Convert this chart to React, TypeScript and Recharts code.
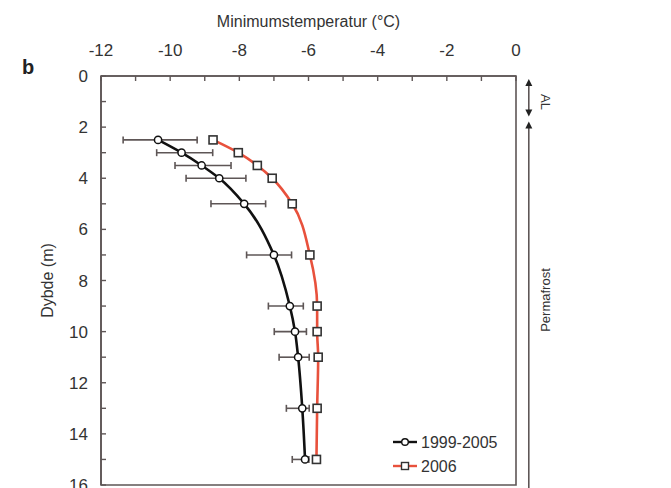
import React from "react";
import {
  LineChart,
  Line,
  XAxis,
  YAxis,
  ErrorBar,
  ReferenceArea,
  ReferenceLine,
} from "recharts";

// depth (m) of each logger
const depths = [2.5, 3, 3.5, 4, 5, 7, 9, 10, 11, 13, 15];
// mean minimum temperature 1999-2005 with min/max range
const temp9905 = [-10.35, -9.67, -9.09, -8.58, -7.86, -7.0, -6.54, -6.39, -6.3, -6.18, -6.1];
const low9905 = [-11.36, -10.39, -9.86, -9.54, -8.82, -7.79, -7.16, -6.99, -6.85, -6.64, -6.47];
const high9905 = [-9.22, -8.77, -8.24, -7.81, -7.24, -6.49, -6.15, -6.06, -5.98, -5.98, -5.99];
// minimum temperature 2006
const temp2006 = [-8.76, -8.03, -7.48, -7.05, -6.47, -5.96, -5.75, -5.75, -5.72, -5.75, -5.77];

const xTicks = [-12, -11, -10, -9, -8, -7, -6, -5, -4, -3, -2, -1, 0];
const yTicks = [0, 1, 2, 3, 4, 5, 6, 7, 8, 9, 10, 11, 12, 13, 14, 15, 16];

const data = depths.map((d, i) => ({
  depth: d,
  a: temp9905[i],
  aErr: [temp9905[i] - low9905[i], high9905[i] - temp9905[i]],
  b: temp2006[i],
}));

const AXIS = "#5e5656";
const RED = "#e8513c";
const FONT = "'Liberation Sans', Arial, sans-serif";
const X_MARGIN = 20;
const Y_MARGIN = 13;

// ticks point inwards, labels only on even values
const XTick = (props: any) => {
  const v = props.payload.value;
  const axisY = props.y + X_MARGIN;
  return (
    <g>
      <line x1={props.x} y1={axisY} x2={props.x} y2={axisY + 5} stroke={AXIS} strokeWidth={1.4} />
      {v % 2 === 0 && (
        <text x={props.x} y={props.y} textAnchor="middle" fontSize={17} fill="#333" fontFamily={FONT}>
          {v}
        </text>
      )}
    </g>
  );
};

const YTick = (props: any) => {
  const v = props.payload.value;
  const axisX = props.x + Y_MARGIN;
  return (
    <g>
      <line x1={axisX} y1={props.y} x2={axisX + 5} y2={props.y} stroke={AXIS} strokeWidth={1.4} />
      {v % 2 === 0 && (
        <text x={props.x} y={props.y} dy="0.36em" textAnchor="end" fontSize={17} fill="#333" fontFamily={FONT}>
          {v}
        </text>
      )}
    </g>
  );
};

const SquareDot = (props: any) => {
  const { cx, cy, index } = props;
  if (cx == null || cy == null) return <g key={index} />;
  return (
    <rect key={index} x={cx - 4} y={cy - 4} width={8} height={8} fill="#fff" stroke="#333" strokeWidth={1.6} />
  );
};

const arrowShape = (both: boolean) => (props: any) => {
  const { x1, y1, x2, y2 } = props;
  const top = Math.min(y1, y2);
  const bot = Math.max(y1, y2);
  return (
    <g>
      <line x1={x1} y1={top + 3} x2={x2} y2={both ? bot - 3 : bot} stroke={AXIS} strokeWidth={1.6} />
      <polygon points={`${x1},${top} ${x1 - 3.5},${top + 7} ${x1 + 3.5},${top + 7}`} fill="#222" />
      {both && (
        <polygon points={`${x1},${bot} ${x1 - 3.5},${bot - 7} ${x1 + 3.5},${bot - 7}`} fill="#222" />
      )}
    </g>
  );
};

export default function App() {
  return (
    <div style={{ position: "absolute", left: 0, top: 0, width: 671, height: 488, background: "#fff" }}>
      <LineChart
        width={671}
        height={488}
        data={data}
        layout="vertical"
        margin={{ top: 30, right: 155, bottom: 3, left: 30 }}
      >
        <ReferenceArea x1={-12} x2={0} y1={0} y2={16} fill="none" stroke={AXIS} strokeWidth={1.6} />
        <XAxis
          type="number"
          dataKey="a"
          orientation="top"
          domain={[-12, 0]}
          ticks={xTicks}
          interval={0}
          allowDataOverflow
          height={46}
          stroke={AXIS}
          strokeWidth={1.6}
          tickLine={false}
          tickSize={0}
          tickMargin={X_MARGIN}
          tick={<XTick />}
          label={{
            value: "Minimumstemperatur (°C)",
            position: "top",
            offset: 3,
            style: { fontSize: 16, fill: "#333", fontFamily: FONT },
          }}
        />
        <YAxis
          type="number"
          dataKey="depth"
          domain={[0, 16]}
          ticks={yTicks}
          interval={0}
          allowDataOverflow
          width={71}
          stroke={AXIS}
          strokeWidth={1.6}
          tickLine={false}
          tickSize={0}
          tickMargin={Y_MARGIN}
          tick={<YTick />}
          label={{
            value: "Dybde (m)",
            angle: -90,
            position: "insideLeft",
            offset: 17,
            style: { fontSize: 16, fill: "#333", fontFamily: FONT, textAnchor: "middle" },
          }}
        />
        <ReferenceLine
          segment={[{ x: 0.37, y: 0.12 }, { x: 0.37, y: 1.58 }]}
          ifOverflow="visible"
          shape={arrowShape(true)}
        />
        <ReferenceLine
          segment={[{ x: 0.37, y: 1.78 }, { x: 0.37, y: 16.4 }]}
          ifOverflow="visible"
          shape={arrowShape(false)}
        />
        <Line
          dataKey="b"
          type="monotoneY"
          stroke={RED}
          strokeWidth={2.6}
          dot={<SquareDot />}
          isAnimationActive={false}
        />
        <Line
          dataKey="a"
          type="monotoneY"
          stroke="#111"
          strokeWidth={2.6}
          dot={{ r: 3.6, fill: "#fff", stroke: "#111", strokeWidth: 1.5 }}
          isAnimationActive={false}
        >
          <ErrorBar dataKey="aErr" direction="x" width={3.5} stroke={AXIS} strokeWidth={1.6} />
        </Line>
      </LineChart>
      <svg
        width={671}
        height={488}
        style={{ position: "absolute", left: 0, top: 0, pointerEvents: "none" }}
        fontFamily={FONT}
      >
        <text x={22} y={74} fontSize={20} fontWeight="bold" fill="#222">
          b
        </text>
        <text x={544} y={102} fontSize={13} fill="#333" textAnchor="middle" dominantBaseline="middle" transform="rotate(90 544 102)">
          AL
        </text>
        <text x={547} y={300} fontSize={13} fill="#333" textAnchor="middle" dominantBaseline="middle" transform="rotate(-90 547 300)">
          Permafrost
        </text>
        {/* legend */}
        <g fontSize={16} fill="#333">
          <line x1={393} y1={442} x2={417} y2={442} stroke="#111" strokeWidth={2.4} />
          <circle cx={405} cy={442} r={3.3} fill="#fff" stroke="#111" strokeWidth={1.4} />
          <text x={421} y={442} dy="0.36em">1999-2005</text>
          <line x1={393} y1={466} x2={417} y2={466} stroke={RED} strokeWidth={2.4} />
          <rect x={401.5} y={462.5} width={7} height={7} fill="#fff" stroke="#333" strokeWidth={1.4} />
          <text x={421} y={466} dy="0.36em">2006</text>
        </g>
      </svg>
    </div>
  );
}
